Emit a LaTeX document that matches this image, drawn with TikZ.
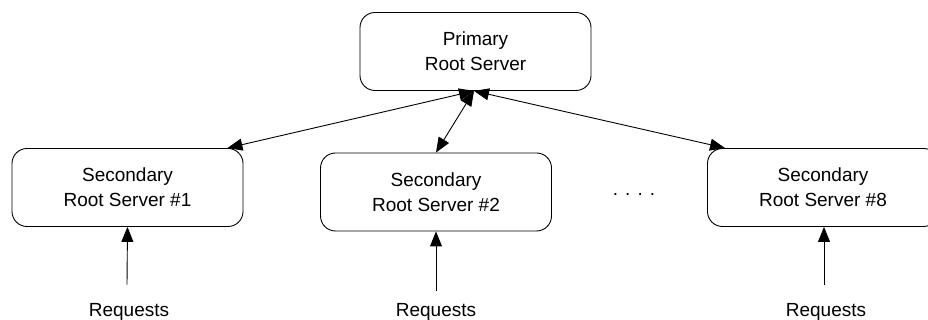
\documentclass[tikz,border=0pt]{standalone}
\usepackage{fontspec}
\setmainfont{Liberation Sans}
\usetikzlibrary{arrows.meta}
\begin{document}
\begin{tikzpicture}[x=1pt,y=1pt,
  box/.style={draw, line width=0.9pt, rounded corners=15pt, minimum width=231pt, minimum height=78pt, align=center, inner sep=0pt, font=\fontsize{19}{25}\selectfont},
  lbl/.style={inner sep=0pt, anchor=base, font=\fontsize{19}{25}\selectfont},
  link/.style={line width=0.9pt, {Triangle[length=15pt,width=12pt]}-{Triangle[length=15pt,width=12pt]}},
  req/.style={line width=0.9pt, -{Triangle[length=15pt,width=12pt]}}]
\useasboundingbox (0,0) rectangle (928,320);
\clip (0,0) rectangle (928,320);
\node[box] (P) at (475.5,268.5) {Primary\\Root Server};
\node[box] (S1) at (127.5,132.5) {Secondary\\Root Server \#1};
\node[box] (S2) at (436,128) {Secondary\\Root Server \#2};
\node[box] (S8) at (823,132.5) {Secondary\\Root Server \#8};
\node[lbl] (dots) at (634,124) {. . . .};
\node[lbl] (R1) at (129,3) {Requests};
\node[lbl] (R2) at (436,3) {Requests};
\node[lbl] (R8) at (826,3) {Requests};
\draw[link] ([xshift=-16pt]S1.north east) -- ([xshift=-1.5pt]P.south);
\draw[link] (S2.north) -- ([xshift=-1.5pt]P.south);
\draw[link] ([xshift=18pt]S8.north west) -- ([xshift=-1.5pt]P.south);
\draw[req] ([xshift=-2pt,yshift=19pt]R1.north) -- (S1.south);
\draw[req] ([yshift=13pt]R2.north) -- (S2.south);
\draw[req] ([xshift=-2pt,yshift=19pt]R8.north) -- ([xshift=1pt]S8.south);
\end{tikzpicture}
\end{document}
